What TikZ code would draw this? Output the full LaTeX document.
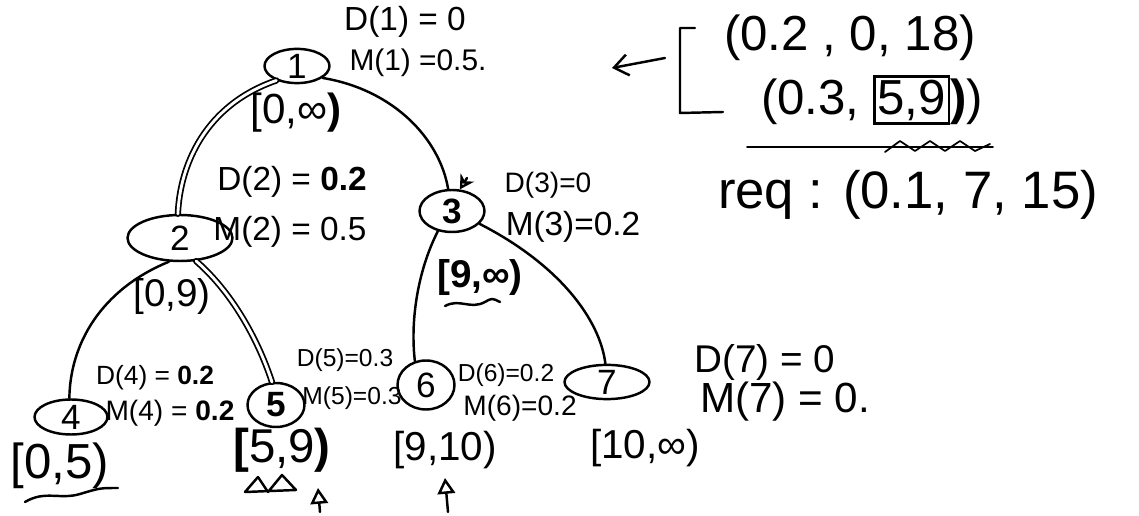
\documentclass[tikz,border=0pt]{standalone}
\usepackage{fontspec}
\setmainfont{Liberation Sans}
\usetikzlibrary{shapes.geometric,arrows.meta}
\setlength{\fboxrule}{1.4pt}
\setlength{\fboxsep}{1pt}

\begin{document}
\begin{tikzpicture}[x=0.02cm, y=-0.02cm, line width=1.4pt, line cap=round, line join=round,
    tnode/.style={draw, ellipse, inner sep=0pt, font=\fontsize{20}{20}\selectfont},
    lbl/.style={inner sep=0pt, font=\fontsize{#1}{#1}\selectfont},
    lbl/.default=19,
    big/.style={inner sep=0pt, font=\fontsize{28}{28}\selectfont}]
    \useasboundingbox (0,0) rectangle (1139,516);
    % tree nodes
    \node[tnode, minimum width=1.3cm, minimum height=0.64cm] (n1) at (297,66) {1};
    \node[tnode, minimum width=2.1cm, minimum height=0.92cm] (n2) at (180,238) {2};
    \node[tnode, minimum width=1.3cm, minimum height=0.84cm] (n3) at (452,211) {\textbf{3}};
    \node[tnode, minimum width=1.46cm, minimum height=0.7cm] (n4) at (71,417) {4};
    \node[tnode, minimum width=1.14cm, minimum height=0.88cm] (n5) at (276,405) {\textbf{5}};
    \node[tnode, minimum width=1.14cm, minimum height=0.98cm] (n6) at (426,385) {6};
    \node[tnode, minimum width=1.7cm, minimum height=0.66cm] (n7) at (607,382) {7};
    % edges
    \path[draw, double, double distance=1.6pt, line width=1pt](n1.215) .. controls (205,105) and (180,165) .. (n2.95);
    \path[draw](n1.-25) .. controls (395,90) and (440,140) .. (n3.100);
    \path[draw](n2.245) .. controls (100,290) and (70,345) .. (n4.95);
    \path[draw, double, double distance=1.6pt, line width=1pt](n2.-55) .. controls (235,295) and (260,345) .. (n5.100);
    \path[draw](n3.235) .. controls (418,270) and (410,320) .. (n6.115);
    \path[draw](n3.-25) .. controls (560,265) and (600,320) .. (n7.95);
    % arrow into 3
    \coordinate(in3)at(467,178);
    \path[draw, -{Stealth[open, length=8pt, width=9pt]}](in3)to(n3.70);
    % node 1
    \node[lbl] (d1) at (405,22) {D(1) = 0};
    \node[lbl=17] (m1) at (418,63) {M(1) =0.5.};
    \node[lbl=24] (r1) at (296,113) {[0,∞\textbf{)}};
    % node 2
    \node[lbl] (d2) at (292,182) {D(2) = \textbf{0.2}};
    \node[lbl] (m2) at (290,232) {M(2) = 0.5};
    \node[lbl=22] (r2) at (172,297) {[0,9)};
    % node 3
    \node[lbl=16] (d3) at (548,185) {D(3)=0};
    \node[lbl] (m3) at (573,227) {M(3)=0.2};
    \node[lbl=22] (r3) at (480,278) {\textbf{[9,∞)}};
    \path[draw](445,306) .. controls (460,298) and (470,310) .. (485,302) .. controls (492,298) .. (500,302);
    % node 4
    \node[lbl=15] (d4) at (155,378) {D(4) = \textbf{0.2}};
    \node[lbl=16] (m4) at (170,413) {M(4) = \textbf{0.2}};
    \node[lbl=28] (r4) at (60,466) {[0,5)};
    \path[draw](25,502) .. controls (45,490) and (60,500) .. (80,494) .. controls (100,488) .. (118,488);
    % node 5
    \node[lbl=14] (d5) at (345,360) {D(5)=0.3};
    \node[lbl=14] (m5) at (352,398) {M(5)=0.3};
    \node[lbl=27] (r5) at (282,450) {\textbf{[}5,9\textbf{)}};
    \path[draw](245,492) -- (258,477) -- (268,492) -- (282,475) -- (296,490) -- (245,492);
    \coordinate(up5)at(320,512);
    \path[draw, -{Triangle[open, length=9pt, width=10pt]}](up5)to(318,488);
    % node 6
    \node[lbl=14] (d6) at (506,375) {D(6)=0.2};
    \node[lbl=16] (m6) at (520,408) {M(6)=0.2};
    \node[lbl=23] (r6) at (445,450) {[9,10)};
    \coordinate(up6)at(448,512);
    \path[draw, -{Triangle[open, length=9pt, width=10pt]}](up6)to(445,478);
    % node 7
    \node[lbl=22] (d7) at (765,362) {D(7) = 0};
    \node[lbl=24] (m7) at (785,402) {M(7) = 0.};
    \node[lbl=23] (r7) at (645,448) {[10,∞)};
    % list
    \coordinate(lst)at(665,58);
    \path[draw, -{Straight Barb[length=8pt, width=12pt]}](lst)to(612,68);
    \path[draw](695,28) -- (680,28) -- (680,113) -- (723,112);
    \node[big] (e1) at (850,38) {(0.2 , 0, 18)};
    \node[big] (e2) at (872,100) {(0.3, \fbox{5,9}\textbf{)})};
    \path[draw, line width=1pt](747,147) -- (993,147);
    \path[draw, line width=1pt](885,152) -- (900,141) -- (915,151) -- (930,141) -- (945,151) -- (960,141) -- (975,151) -- (990,144);
    % request
    \node[big, font=\fontsize{30}{30}\selectfont] (rq) at (908,195) {req : (0.1, 7, 15)};
\end{tikzpicture}
\end{document}
